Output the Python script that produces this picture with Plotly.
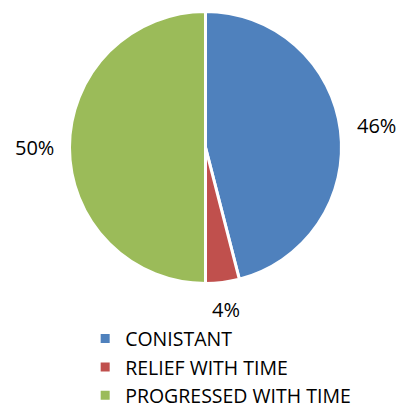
import math
import plotly.graph_objects as go

labels = ["CONISTANT", "RELIEF WITH TIME", "PROGRESSED WITH TIME"]
values = [46, 4, 50]
colors = ["#4F81BD", "#C0504D", "#9BBB59"]

W, H = 398, 409
dom_x = [0.1746, 0.858]
dom_y = [0.306, 0.973]
FONT = "Open Sans"

fig = go.Figure(go.Pie(
    labels=labels,
    values=values,
    sort=False,
    direction="clockwise",
    rotation=0,
    marker=dict(colors=colors, line=dict(color="white", width=3)),
    textinfo="none",
    domain=dict(x=dom_x, y=dom_y),
    showlegend=True,
    hoverinfo="label+percent",
))

# percentage labels placed outside each slice, derived from the values
cx = (dom_x[0] + dom_x[1]) / 2 * W
cy = (1 - (dom_y[0] + dom_y[1]) / 2) * H
radius = min((dom_x[1] - dom_x[0]) * W, (dom_y[1] - dom_y[0]) * H) / 2
total = sum(values)
cum = 0
for v in values:
    mid = (cum + v / 2) / total * 2 * math.pi
    cum += v
    s, c = math.sin(mid), math.cos(mid)
    r = radius + 15 + 20 * abs(s) + 10 * abs(c)
    px = cx + r * s
    py = cy - r * c
    fig.add_annotation(
        x=px / W, y=1 - py / H, xref="paper", yref="paper",
        text=f"{round(v / total * 100)}%", showarrow=False,
        xanchor="center", yanchor="middle",
        font=dict(size=20, family=FONT, color="#000000"),
    )

fig.update_layout(
    width=W, height=H,
    margin=dict(l=0, r=0, t=0, b=0, autoexpand=False),
    paper_bgcolor="white",
    plot_bgcolor="white",
    font=dict(family=FONT, size=19.5, color="#000000"),
    legend=dict(
        x=0.214, y=0.219, xanchor="left", yanchor="top",
        orientation="v",
        itemwidth=30,
        font=dict(size=19.5, family=FONT, color="#000000"),
    ),
)

fig.write_html("out.html")
